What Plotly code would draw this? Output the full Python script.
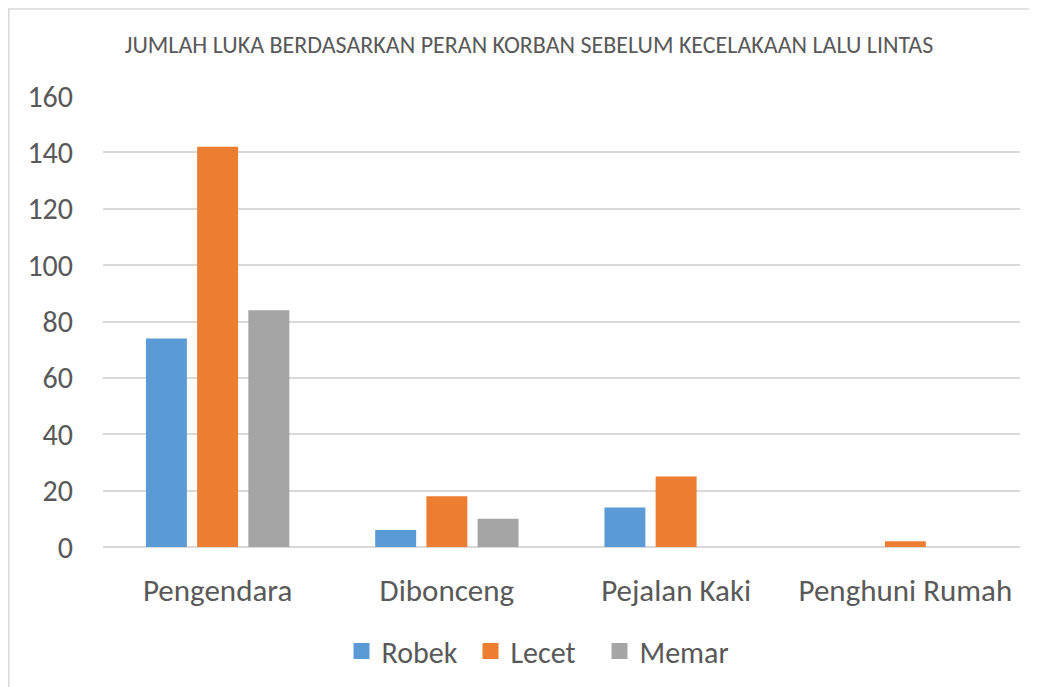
import plotly.graph_objects as go

categories = ["Pengendara", "Dibonceng", "Pejalan Kaki", "Penghuni Rumah"]
robek = [74, 6, 14, 0]
lecet = [142, 18, 25, 2]
memar = [84, 10, 0, 0]
series_names = ["Robek", "Lecet", "Memar"]
colors = ["#5B9BD5", "#ED7D31", "#A5A5A5"]
title_text = "JUMLAH LUKA BERDASARKAN PERAN KORBAN SEBELUM KECELAKAAN LALU LINTAS"

W, H = 1037, 687
# page body adds an 8px offset; positions below are compensated
ml, mr, mt, mb = 95, 25, 88, 148
font_family = "Carlito, Calibri, 'Open Sans', sans-serif"
txt = "#595959"

fig = go.Figure()
for name, vals, col in zip(series_names, [robek, lecet, memar], colors):
    fig.add_trace(go.Bar(x=categories, y=vals, name=name, showlegend=False,
                         marker=dict(color=col, line=dict(width=0))))
for name, col in zip(series_names, colors):
    fig.add_trace(go.Scatter(x=[None], y=[None], mode="markers", name=name,
                             marker=dict(symbol="square", size=16, color=col)))

pw = W - ml - mr
ph = H - mt - mb

fig.update_layout(
    width=W, height=H,
    margin=dict(l=ml, r=mr, t=mt, b=mb),
    paper_bgcolor="white", plot_bgcolor="white",
    barmode="group", bargap=0.33, bargroupgap=0.2,
    font=dict(family=font_family, color=txt),
    title=dict(text=title_text, x=521 / W, xref="container", xanchor="center",
               y=1 - 37 / H, yref="container", yanchor="middle",
               font=dict(size=24, color=txt)),
    xaxis=dict(showgrid=False, showline=False, ticks="", tickfont=dict(size=31, color=txt),
               ticklabelstandoff=22),
    yaxis=dict(range=[0, 160], dtick=20, showgrid=True, gridcolor="#D9D9D9", gridwidth=1.5,
               zeroline=True, zerolinecolor="#D9D9D9", zerolinewidth=1.5, showline=False,
               tickfont=dict(size=30, color=txt), ticklabelstandoff=29),
    legend=dict(orientation="h", x=(527 - ml) / pw, xanchor="center", y=-(643 - (mt + ph)) / ph,
                yanchor="middle", font=dict(size=30, color=txt), itemwidth=30,
                itemsizing="trace", traceorder="normal", entrywidth=84, entrywidthmode="pixels"),
    shapes=[dict(type="rect", xref="paper", yref="paper",
                 x0=(0.75 - ml) / pw, x1=(W + 20 - ml) / pw,
                 y0=-(H + 20 - mt - ph) / ph, y1=(H - 1 - mb) / ph,
                 line=dict(color="#D9D9D9", width=1.5), fillcolor="rgba(0,0,0,0)", layer="below")],
)

fig.write_html("out.html")
